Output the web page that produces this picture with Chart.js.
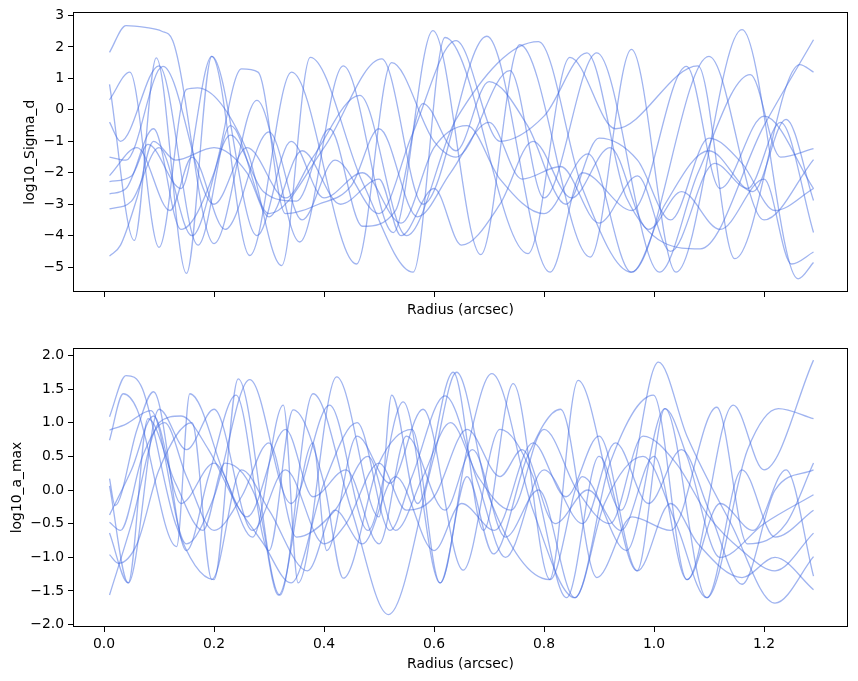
<!DOCTYPE html>
<html>
<head>
<meta charset="utf-8">
<title>Sigma_d / a_max profiles</title>
<script src="https://cdn.jsdelivr.net/npm/chart.js@4.4.1/dist/chart.umd.min.js"></script>
<style>
  body { margin: 0; background: #fff; }
  #wrap { position: relative; width: 858px; height: 681px; }
  canvas { position: absolute; left: 0; }
  #topChart { top: 0; }
  #botChart { top: 330px; }
</style>
</head>
<body>
<div id="wrap">
  <canvas id="topChart" width="858" height="330"></canvas>
  <canvas id="botChart" width="858" height="351"></canvas>
</div>
<script>
// x ticks shared by both panels
const radiusTicks = [0.0, 0.2, 0.4, 0.6, 0.8, 1.0, 1.2];
const sigmaTicks = [-5, -4, -3, -2, -1, 0, 1, 2, 3];
const amaxTicks = [-2.0, -1.5, -1.0, -0.5, 0.0, 0.5, 1.0, 1.5, 2.0];

// top panel: log10_Sigma_d samples (radius, value)
const s1r = [0.01, 0.04, 0.075, 0.105, 0.125, 0.2, 0.278, 0.356, 0.435, 0.526, 0.598, 0.685, 0.756, 0.884, 0.959, 1.04, 1.16, 1.262, 1.29];
const s1v = [1.83, 2.68, 2.62, 2.5, 2.2, -4.25, 0.3, -4.2, 1.4, -3.9, 2.52, -4.6, 2.07, -4.68, 1.92, -5.16, 2.55, -5.37, -4.85];
const s2r = [0.01, 0.055, 0.095, 0.15, 0.196, 0.265, 0.341, 0.459, 0.523, 0.6, 0.64, 0.738, 0.8, 0.896, 1.01, 1.08, 1.175, 1.23, 1.29];
const s2v = [0.81, -4.15, 1.65, -5.2, 1.7, -4.63, 1.2, -4.9, 1.5, -1.0, -1.5, 1.25, -2.8, 1.81, -5.16, -2.0, 1.12, -1.5, -1.23];
const s3r = [0.01, 0.047, 0.1, 0.15, 0.17, 0.26, 0.323, 0.375, 0.47, 0.562, 0.62, 0.771, 0.847, 0.93, 1.08, 1.147, 1.265, 1.29];
const s3v = [0.32, 1.2, -4.37, 0.65, 0.7, -1.3, -4.95, 1.67, -2.3, -5.16, 2.3, -4.57, 1.67, -0.6, 1.4, -4.73, 1.44, 1.2];
const s4r = [0.01, 0.03, 0.1, 0.171, 0.23, 0.3, 0.4, 0.505, 0.58, 0.696, 0.811, 0.87, 0.96, 1.059, 1.12, 1.2, 1.29];
const s4v = [-0.39, -1.0, 1.4, -4.3, -0.5, -3.3, -1.2, 1.62, -3.0, 2.34, -5.16, -2.0, -3.2, 1.38, -2.5, -0.2, -2.5];
const s5r = [0.01, 0.04, 0.107, 0.2, 0.26, 0.33, 0.38, 0.465, 0.55, 0.64, 0.79, 0.87, 0.959, 1.1, 1.2, 1.29];
const s5v = [-1.5, -1.6, 1.38, -3.0, -1.2, -2.8, -1.5, 0.46, -4.0, -0.3, 2.17, -2.5, -5.16, 1.7, -3.5, -1.58];
const s6r = [0.01, 0.06, 0.12, 0.16, 0.22, 0.3, 0.36, 0.42, 0.5, 0.56, 0.64, 0.72, 0.8, 0.878, 0.95, 1.084, 1.2, 1.29];
const s6v = [-2.09, -1.2, -3.2, -1.5, -3.8, -0.7, -3.5, -1.6, -3.3, -0.8, 2.2, -1.0, -0.2, 1.81, -2.8, -4.42, -0.5, 2.23];
const s7r = [0.01, 0.05, 0.08, 0.14, 0.196, 0.278, 0.34, 0.4, 0.47, 0.54, 0.6, 0.66, 0.72, 0.8, 0.88, 0.959, 1.02, 1.1, 1.18, 1.24, 1.29];
const s7v = [-2.28, -2.1, -1.1, -2.5, 1.7, -4.0, -1.0, -2.8, -2.0, -3.6, -1.2, -0.5, -2.2, -3.3, -1.4, -5.16, -3.0, -1.3, -2.6, -0.3, -2.88];
const s8r = [0.01, 0.04, 0.09, 0.14, 0.2, 0.25, 0.28, 0.33, 0.39, 0.45, 0.5, 0.57, 0.63, 0.7, 0.76, 0.83, 0.9, 0.97, 1.03, 1.11, 1.17, 1.23, 1.29];
const s8v = [-2.67, -2.5, -0.6, -3.8, -2.0, 1.3, 1.2, -3.3, -3.0, -2.4, -0.6, -3.4, -2.0, -0.4, -2.2, -1.8, -3.6, -2.1, -4.5, -1.7, -2.5, -0.4, -3.9];
const s9r = [0.01, 0.03, 0.06, 0.09, 0.13, 0.2, 0.26, 0.3, 0.36, 0.43, 0.5, 0.54, 0.6, 0.65, 0.72, 0.78, 0.85, 0.92, 0.99, 1.05, 1.12, 1.2, 1.25, 1.29];
const s9v = [-4.65, -4.3, -2.8, -1.0, -1.6, -1.2, -2.0, -3.4, -1.3, -3.0, -2.2, -4.0, -2.5, -4.3, -3.0, -1.0, -2.8, -1.2, -3.8, -2.6, -3.8, -2.2, -4.9, -4.52];
const s10r = [0.01, 0.05, 0.1, 0.16, 0.23, 0.29, 0.35, 0.41, 0.47, 0.53, 0.58, 0.64, 0.7, 0.77, 0.84, 0.9, 0.97, 1.03, 1.1, 1.16, 1.22, 1.29];
const s10v = [-3.15, -2.9, -1.2, -4.0, -0.8, -2.6, -2.9, -0.6, -3.7, -3.2, 0.2, -1.3, 0.9, -0.5, -3.0, -0.9, -1.6, -3.5, -0.9, -1.7, -3.2, -2.5];

// bottom panel: log10_a_max samples
const a1r = [0.01, 0.04, 0.07, 0.13, 0.2, 0.244, 0.32, 0.38, 0.45, 0.517, 0.6, 0.641, 0.7, 0.81, 0.862, 0.94, 1.008, 1.06, 1.14, 1.22, 1.29];
const a1v = [1.09, 1.7, 1.5, -0.5, -1.33, 1.65, -1.56, 1.43, -0.3, -1.85, 0.5, 1.75, -0.1, -1.33, 1.63, -0.3, 1.9, 0.8, -0.5, -1.68, -0.99];
const a2r = [0.01, 0.04, 0.085, 0.15, 0.2, 0.265, 0.34, 0.41, 0.48, 0.544, 0.611, 0.66, 0.705, 0.78, 0.856, 0.92, 0.999, 1.06, 1.144, 1.2, 1.29];
const a2v = [0.89, 0.98, 1.18, -0.8, -0.1, 1.64, -0.2, 1.26, -0.6, 1.31, -1.38, 0.6, 1.73, -0.3, -1.6, 0.4, 1.41, -1.33, 1.26, 0.3, 1.93];
const a3r = [0.01, 0.035, 0.06, 0.132, 0.156, 0.22, 0.27, 0.326, 0.353, 0.423, 0.5, 0.523, 0.57, 0.635, 0.69, 0.744, 0.811, 0.87, 0.95, 1.02, 1.096, 1.17, 1.226, 1.29];
const a3v = [0.74, 1.43, 1.2, -0.84, 1.43, 0.2, -0.7, 1.26, -1.38, 1.68, -0.4, 1.41, -0.2, 1.75, -0.6, 1.58, -1.33, 0.2, -0.9, 1.21, -1.6, 0.6, 1.21, 1.06];
const a4r = [0.01, 0.02, 0.06, 0.09, 0.15, 0.19, 0.24, 0.3, 0.344, 0.4, 0.435, 0.5, 0.56, 0.611, 0.66, 0.708, 0.77, 0.83, 0.896, 0.96, 1.03, 1.114, 1.17, 1.24, 1.29];
const a4v = [0.17, -0.23, 0.9, 1.46, -0.9, 0.2, 1.41, -0.9, 1.19, 0.1, -1.31, 0.4, 0.9, -1.38, 0.2, -0.95, 0.5, 1.2, -1.3, -0.4, -0.6, 1.23, -0.8, -0.5, 0.4];
const a5r = [0.01, 0.044, 0.08, 0.13, 0.18, 0.22, 0.28, 0.317, 0.38, 0.405, 0.46, 0.52, 0.58, 0.653, 0.72, 0.78, 0.841, 0.9, 0.969, 1.02, 1.06, 1.12, 1.2, 1.29];
const a5v = [0.06, -1.38, 1.06, 0.1, -0.6, 0.4, -0.2, -1.56, 0.7, -0.9, 0.8, 0.1, 1.2, -1.19, 0.9, 0.2, -1.6, 0.5, -1.2, 1.21, 0.5, -1.0, -0.5, -0.07];
const a6r = [0.01, 0.05, 0.09, 0.14, 0.2, 0.26, 0.33, 0.38, 0.44, 0.5, 0.55, 0.62, 0.67, 0.73, 0.79, 0.856, 0.91, 0.98, 1.04, 1.096, 1.16, 1.22, 1.29];
const a6v = [-0.37, 0.3, 1.1, -0.2, 0.4, -0.4, 0.9, -0.1, 0.3, -0.8, 0.8, -0.3, 0.6, -0.7, 0.0, -1.6, -0.2, 0.5, -0.5, -1.6, 0.3, -0.7, -0.3];
const a7r = [0.01, 0.03, 0.07, 0.11, 0.15, 0.2, 0.25, 0.3, 0.35, 0.42, 0.48, 0.53, 0.58, 0.63, 0.68, 0.74, 0.8, 0.86, 0.92, 0.98, 1.04, 1.1, 1.16, 1.22, 1.29];
const a7v = [-0.48, -0.6, 0.5, 1.0, 0.2, -0.6, -0.1, 0.7, -0.7, -0.3, 0.5, -0.6, 0.2, 1.0, 0.2, -0.3, 0.9, 0.0, -0.5, 0.8, 0.4, -0.4, -0.9, -1.2, -0.64];
const a8r = [0.01, 0.044, 0.1, 0.15, 0.2, 0.27, 0.33, 0.4, 0.44, 0.5, 0.55, 0.6, 0.66, 0.72, 0.76, 0.82, 0.88, 0.94, 1.0, 1.06, 1.12, 1.18, 1.24, 1.29];
const a8v = [-0.64, -1.38, 1.2, 0.6, 1.2, -0.6, 0.3, -0.8, -0.5, 0.4, -0.3, -0.1, 0.9, 0.2, 0.6, -0.5, 0.0, -0.6, 0.5, -1.33, -0.2, -0.6, 0.3, -1.28];
const a9r = [0.01, 0.026, 0.06, 0.1, 0.16, 0.196, 0.25, 0.3, 0.37, 0.42, 0.47, 0.53, 0.6, 0.65, 0.71, 0.78, 0.84, 0.9, 0.97, 1.03, 1.08, 1.16, 1.22, 1.29];
const a9v = [-0.96, -1.09, -0.8, 0.3, 1.0, -1.33, 0.3, -0.3, -1.2, -0.3, -0.8, 0.2, -0.9, -0.2, -0.6, 0.7, -0.1, 0.8, -1.2, -0.2, -0.8, -1.3, -1.0, -1.48];
const a10r = [0.01, 0.05, 0.1, 0.14, 0.19, 0.24, 0.29, 0.34, 0.4, 0.46, 0.52, 0.56, 0.62, 0.68, 0.73, 0.8, 0.87, 0.93, 0.99, 1.05, 1.1, 1.16, 1.22, 1.29];
const a10v = [-1.56, -0.5, 1.0, 1.1, 0.6, -0.2, -0.8, -1.38, 0.1, 1.0, -0.6, 0.2, 1.4, 0.1, -1.0, 0.3, -0.5, 0.7, -0.2, 0.6, -0.3, -1.4, 0.0, 0.3];

const sigmaLines = [[s1r, s1v], [s2r, s2v], [s3r, s3v], [s4r, s4v], [s5r, s5v],
                    [s6r, s6v], [s7r, s7v], [s8r, s8v], [s9r, s9v], [s10r, s10v]];
const amaxLines = [[a1r, a1v], [a2r, a2v], [a3r, a3v], [a4r, a4v], [a5r, a5v],
                   [a6r, a6v], [a7r, a7v], [a8r, a8v], [a9r, a9v], [a10r, a10v]];

Chart.defaults.font.family = '"DejaVu Sans", sans-serif';
Chart.defaults.font.size = 13.9;
Chart.defaults.color = '#000';

const minus = s => String(s).replace('-', '\u2212');

// matplotlib style closed frame around the plot area
const frame = {
    id: 'frame',
    afterDraw(chart) {
        const a = chart.chartArea;
        const ctx = chart.ctx;
        ctx.save();
        ctx.strokeStyle = '#000';
        ctx.lineWidth = 1;
        ctx.strokeRect(Math.round(a.left) + 0.5, Math.round(a.top) + 0.5,
                       Math.round(a.right - a.left) - 1, Math.round(a.bottom - a.top) - 1);
        ctx.restore();
    }
};

function buildDatasets(lines) {
    return lines.map(([r, v]) => ({
        data: r.map((x, i) => ({ x: x, y: v[i] })),
        borderColor: 'rgba(65, 105, 225, 0.5)',
        borderWidth: 1.3,
        pointRadius: 0,
        fill: false,
        cubicInterpolationMode: 'monotone'
    }));
}

function makeChart(id, lines, opts) {
    return new Chart(document.getElementById(id), {
        type: 'line',
        data: { datasets: buildDatasets(lines) },
        options: {
            responsive: false,
            animation: false,
            layout: { padding: { top: opts.padTop, right: 10, left: 0, bottom: 0 } },
            plugins: { legend: { display: false }, tooltip: { enabled: false } },
            scales: {
                x: {
                    type: 'linear',
                    min: -0.0564,
                    max: 1.3527,
                    afterBuildTicks: s => { s.ticks = radiusTicks.map(v => ({ value: v })); },
                    afterFit: s => { s.height = opts.xHeight; },
                    grid: { drawOnChartArea: false, drawTicks: true, tickLength: 5, color: '#000' },
                    border: { display: false },
                    ticks: {
                        display: opts.xLabels,
                        padding: 4,
                        maxRotation: 0,
                        callback: v => v.toFixed(1)
                    },
                    title: {
                        display: true,
                        text: 'Radius (arcsec)',
                        padding: { top: 0, bottom: opts.xTitlePad }
                    }
                },
                y: {
                    type: 'linear',
                    min: opts.yMin,
                    max: opts.yMax,
                    afterBuildTicks: s => { s.ticks = opts.yTicks.map(v => ({ value: v })); },
                    afterFit: s => { s.width = 73; },
                    grid: { drawOnChartArea: false, drawTicks: true, tickLength: 5, color: '#000' },
                    border: { display: false },
                    ticks: { padding: 4, callback: opts.yFormat },
                    title: {
                        display: true,
                        text: opts.yTitle,
                        padding: { top: opts.yTitlePad, bottom: 0 }
                    }
                }
            }
        },
        plugins: [frame]
    });
}

makeChart('topChart', sigmaLines, {
    padTop: 12, xHeight: 38, xLabels: false, xTitlePad: 11.5,
    yMin: -5.79, yMax: 3.1, yTicks: sigmaTicks,
    yFormat: v => minus(v.toFixed(0)),
    yTitle: 'log10_Sigma_d', yTitlePad: 22
});

makeChart('botChart', amaxLines, {
    padTop: 18, xHeight: 54, xLabels: true, xTitlePad: 8.5,
    yMin: -2.035, yMax: 2.11, yTicks: amaxTicks,
    yFormat: v => minus(v.toFixed(1)),
    yTitle: 'log10_a_max', yTitlePad: 9
});
</script>
</body>
</html>
